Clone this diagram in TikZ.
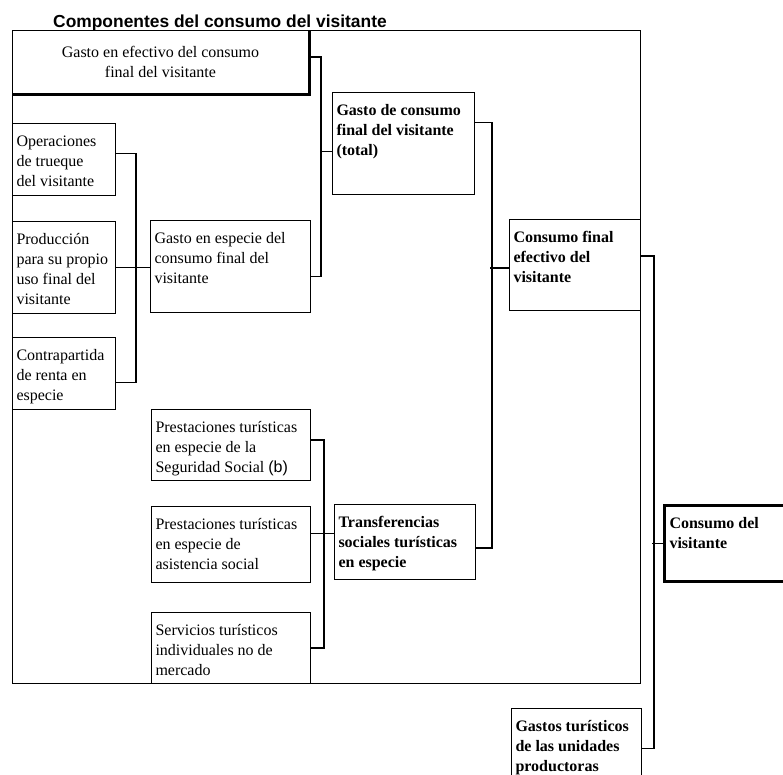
\documentclass[tikz,border=0pt]{standalone}
\usepackage{fontspec}
\setmainfont{Liberation Serif}
\setsansfont{Liberation Sans}
\usepackage{tikz}

% caja de texto con el texto arriba
\newcommand{\cajatxt}[3]{\parbox[c][#1][t]{#2}{\vspace*{9pt}\strut#3}}

\tikzset{
  caja/.style={draw, line width=1pt, anchor=north west, inner xsep=4pt, inner ysep=0pt,
    font=\fontsize{16}{20}\selectfont},
  cajab/.style={caja, font=\fontsize{16}{20}\selectfont\bfseries},
  linea/.style={line width=1.6pt},
}

\begin{document}
\begin{tikzpicture}[x=1pt, y=-1pt]
\useasboundingbox (0,0) rectangle (783,774);
\clip (0,0) rectangle (783,774);

% title and frame
\node[anchor=base west, inner sep=0pt, font=\sffamily\bfseries\fontsize{17.4}{20}\selectfont] (titulo) at (53,27) {Componentes del consumo del visitante};
\node[draw, line width=1.1pt, anchor=north west, inner sep=0pt, minimum width=628pt, minimum height=653pt] (marco) at (12,30) {};

% top box
\node[caja, inner sep=0pt, minimum width=296pt, minimum height=63pt, align=center] (efec) at (12,30) {Gasto en efectivo del consumo\\final del visitante};
\draw[line width=3pt] (efec.north east) |- (efec.south west);

% left column
\node[caja] (trueque) at (12,123) {\cajatxt{72pt}{95pt}{Operaciones\\de trueque\\del visitante}};
\node[caja] (propio) at (12,221) {\cajatxt{92pt}{95pt}{Producción\\para su propio\\uso final del\\visitante}};
\node[caja] (renta) at (12,337) {\cajatxt{72pt}{95pt}{Contrapartida\\de renta en\\especie}};

% second column
\node[caja] (especie) at (150,220) {\cajatxt{92pt}{152pt}{Gasto en especie del\\consumo final del\\visitante}};
\node[caja] (ss) at (151,409) {\cajatxt{71pt}{151pt}{Prestaciones turísticas\\en especie de la\\Seguridad Social \textsf{(b)}}};
\node[caja] (asist) at (151,506) {\cajatxt{76pt}{151pt}{Prestaciones turísticas\\en especie de\\asistencia social}};
\node[caja] (nomerc) at (151,612) {\cajatxt{71pt}{151pt}{Servicios turísticos\\individuales no de\\mercado}};

% third column
\node[cajab] (gtotal) at (332,92) {\cajatxt{102pt}{134pt}{Gasto de consumo\\final del visitante\\(total)}};
\node[cajab] (transf) at (334,504) {\cajatxt{75pt}{133pt}{Transferencias\\sociales turísticas\\en especie}};

% right
\node[cajab] (cfinal) at (509,219) {\cajatxt{91pt}{123pt}{Consumo final\\efectivo del\\visitante}};
\node[cajab, line width=3pt, inner xsep=5pt] (cvis) at (663,504) {\cajatxt{76pt}{170pt}{Consumo del\\visitante}};
\node[cajab] (gprod) at (511,708) {\cajatxt{80pt}{122pt}{Gastos turísticos\\de las unidades\\productoras}};

% connectors
\draw[linea] ([yshift=5pt]efec.east) -| ([xshift=10pt,yshift=-10pt]especie.east) -- ([yshift=-10pt]especie.east);
\draw[linea] ([yshift=-8pt]gtotal.west) -- ++(-12pt,0);
\draw[linea] ([yshift=6pt]trueque.east) -| ([xshift=20pt,yshift=-9pt]renta.east) -- ([yshift=-9pt]renta.east);
\draw[linea] (propio.east) -- (propio.east -| especie.west);
\draw[linea] ([yshift=5pt]ss.east) -| ([xshift=13pt]nomerc.east) -- (nomerc.east);
\draw[linea] ([yshift=11pt]asist.east) -- ([yshift=11pt]asist.east -| transf.west);
\draw[linea] ([yshift=21pt]gtotal.east) -| ([xshift=16pt,yshift=-6pt]transf.east) -- ([yshift=-6pt]transf.east);
\draw[linea] ([yshift=-3pt]cfinal.west) -- ++(-19pt,0);
\draw[linea] ([yshift=9pt]cfinal.east) -| ([xshift=12pt]gprod.east) -- (gprod.east);
\draw[linea] (cvis.west) -- ++(-11pt,0);
\end{tikzpicture}
\end{document}
